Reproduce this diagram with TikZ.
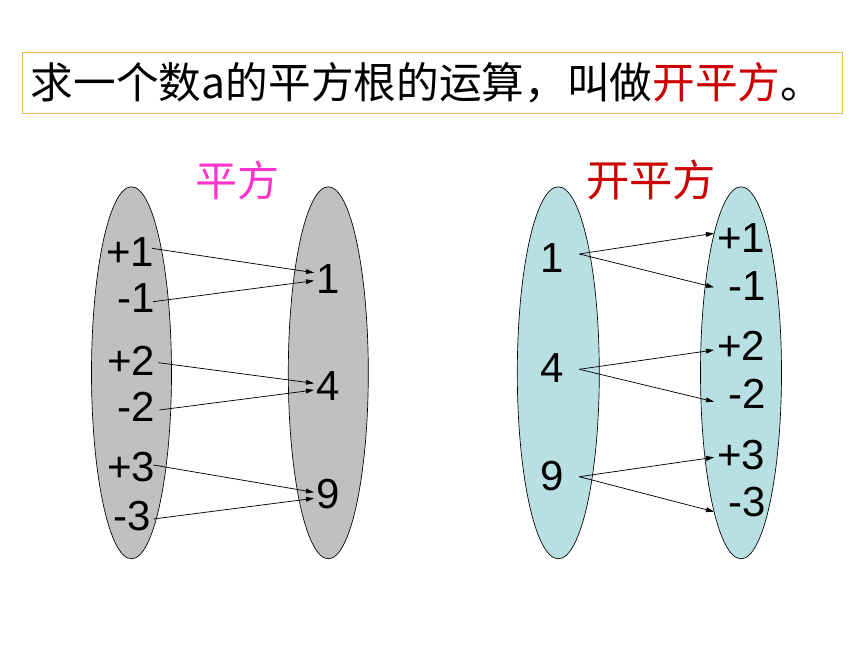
\documentclass[tikz,border=0pt]{standalone}
\usepackage{fontspec}
\setmainfont{Liberation Sans}
\newfontfamily\cjk{Noto Sans CJK SC}
\usetikzlibrary{arrows.meta}
\definecolor{boxorange}{HTML}{F4B45A}
\definecolor{titlered}{HTML}{CC0000}
\definecolor{pinkish}{HTML}{FF33CC}
\definecolor{ellgray}{HTML}{C0C0C0}
\definecolor{ellteal}{HTML}{B8DFE2}
\begin{document}
\begin{tikzpicture}[x=0.75pt,y=-0.75pt,
  num/.style={font=\fontsize{31.5}{36}\selectfont, inner sep=0pt},
  ellg/.style={draw=black, line width=0.5pt, fill=ellgray},
  ellt/.style={draw=black, line width=0.5pt, fill=ellteal},
  conn/.style={line width=0.55pt, -{Triangle[length=6pt,width=3.6pt]}}]
\useasboundingbox (0,0) rectangle (860,645);
\fill[white] (0,0) rectangle (860,645);
% title
\node[draw=boxorange, line width=0.6pt, minimum width=820*0.75pt, minimum height=61*0.75pt, inner sep=0pt] (titlebox) at (432,82.5) {};
\node[font=\cjk\fontsize{32}{36}\selectfont, inner sep=0pt] (title) at (427,83) {求一个数a的平方根的运算，叫做\textcolor{titlered}{开平方}。};
% headings
\node[font=\cjk\fontsize{31.5}{36}\selectfont, text=pinkish, inner sep=0pt] (h1) at (237,180) {平方};
\node[font=\cjk\fontsize{32.5}{36}\selectfont, text=titlered, inner sep=0pt] (h2) at (651,180) {开平方};
% ellipses
\path[ellg] (131.5,372.8) ellipse [x radius=40, y radius=186];
\path[ellg] (328.3,372.8) ellipse [x radius=40, y radius=186];
\path[ellt] (558.3,372.8) ellipse [x radius=41, y radius=186];
\path[ellt] (741,372.8) ellipse [x radius=40.5, y radius=186];
% left group numbers
\node[num] (lp1) at (130,252) {+1};
\node[num] (lm1) at (136,298) {-1};
\node[num] (lp2) at (131,361) {+2};
\node[num] (lm2) at (136,407) {-2};
\node[num] (lp3) at (131,467) {+3};
\node[num] (lm3) at (132,516) {-3};
\node[num] (r1) at (328,279) {1};
\node[num] (r4) at (328,386) {4};
\node[num] (r9) at (328,494) {9};
% right group numbers
\node[num] (s1) at (552,258) {1};
\node[num] (s4) at (552,368) {4};
\node[num] (s9) at (552,476) {9};
\node[num] (tp1) at (741,238) {+1};
\node[num] (tm1) at (747,286) {-1};
\node[num] (tp2) at (741,346) {+2};
\node[num] (tm2) at (747,394) {-2};
\node[num] (tp3) at (741,455) {+3};
\node[num] (tm3) at (747,502) {-3};
% arrow end points
\coordinate (a1s) at (152,248.3);
\coordinate (a1e) at (314,272.7);
\coordinate (a2s) at (153,301.7);
\coordinate (a2e) at (314,280.7);
\coordinate (a3s) at (158.3,362.7);
\coordinate (a3e) at (314,383.3);
\coordinate (a4s) at (159.3,410);
\coordinate (a4e) at (314,390);
\coordinate (a5s) at (153.3,465);
\coordinate (a5e) at (314,492.3);
\coordinate (a6s) at (153.3,519);
\coordinate (a6e) at (314,498.3);
\coordinate (b1s) at (579.3,254);
\coordinate (b1e) at (714,233.3);
\coordinate (b2e) at (714,287.3);
\coordinate (b3s) at (579.3,369.3);
\coordinate (b3e) at (714,350);
\coordinate (b4e) at (714,401.7);
\coordinate (b5s) at (579.3,476.7);
\coordinate (b5e) at (714,457.3);
\coordinate (b6e) at (714,511.7);
% arrows
\draw[conn] (a1s) -- (a1e);
\draw[conn] (a2s) -- (a2e);
\draw[conn] (a3s) -- (a3e);
\draw[conn] (a4s) -- (a4e);
\draw[conn] (a5s) -- (a5e);
\draw[conn] (a6s) -- (a6e);
\draw[conn] (b1s) -- (b1e);
\draw[conn] (b1s) -- (b2e);
\draw[conn] (b3s) -- (b3e);
\draw[conn] (b3s) -- (b4e);
\draw[conn] (b5s) -- (b5e);
\draw[conn] (b5s) -- (b6e);
\end{tikzpicture}
\end{document}
